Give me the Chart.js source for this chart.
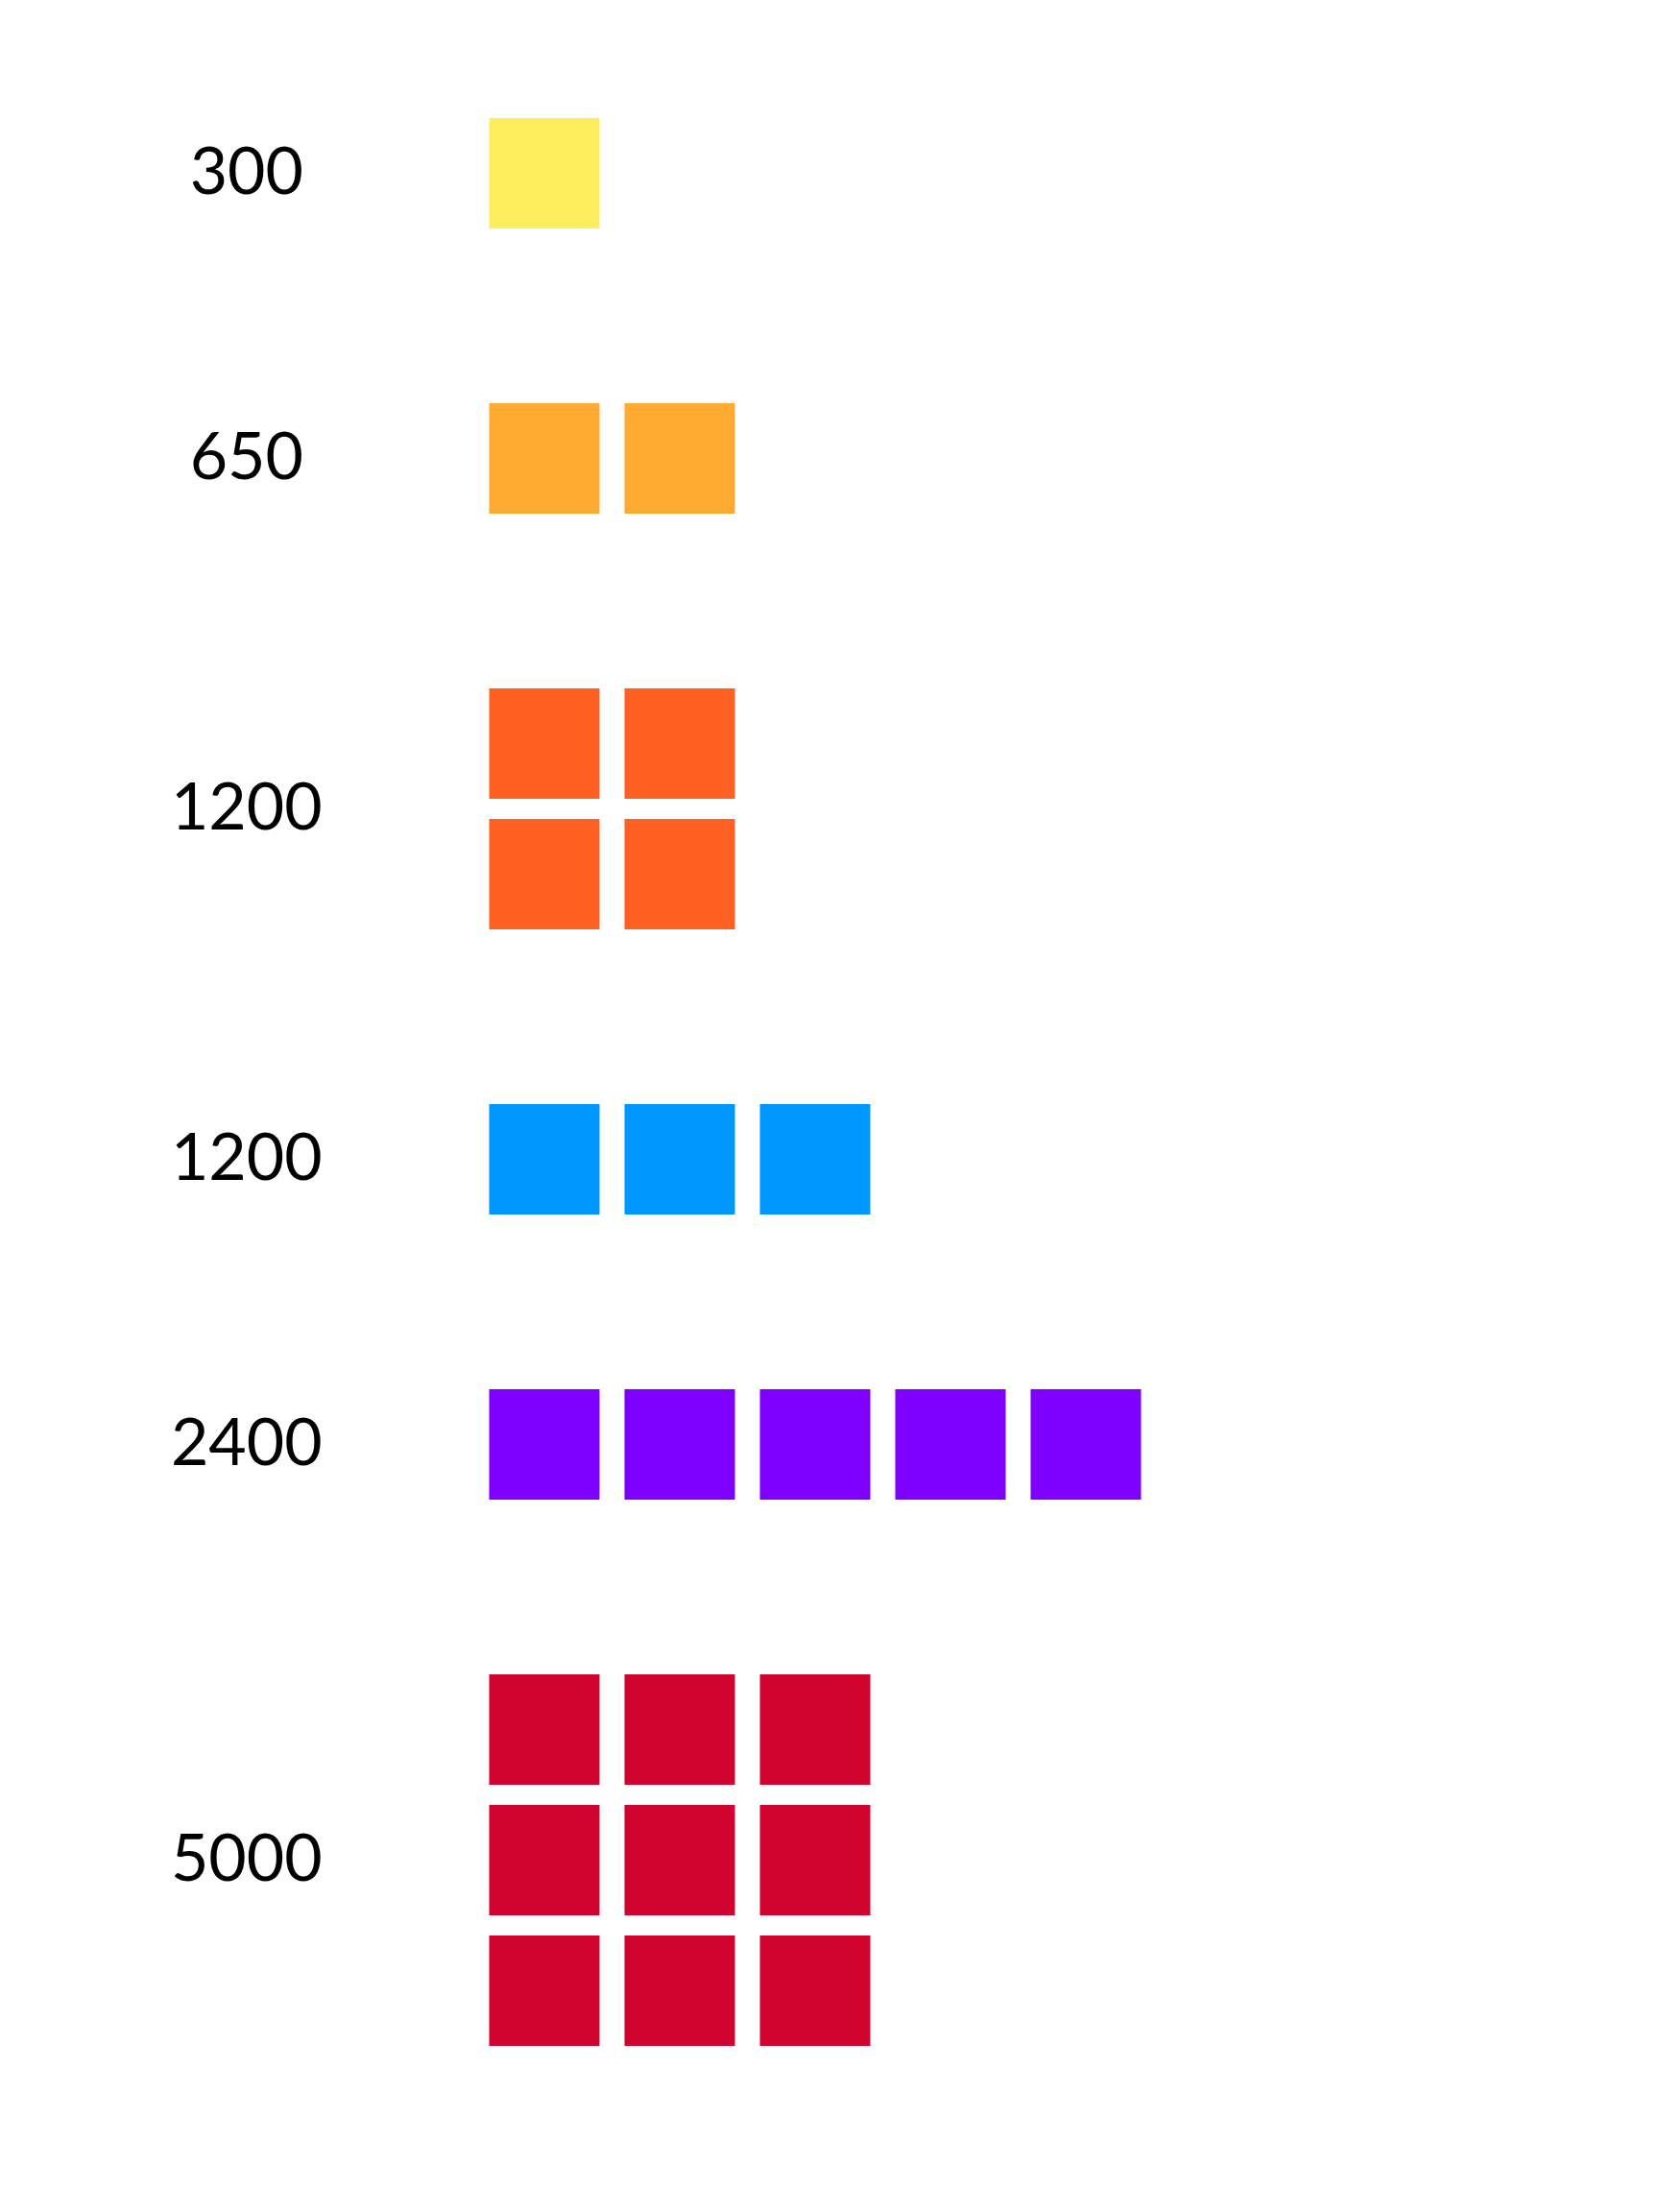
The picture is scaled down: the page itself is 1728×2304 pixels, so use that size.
<!DOCTYPE html>
<html>
<head>
<meta charset="utf-8">
<title>Unit grid</title>
<script src="https://cdn.jsdelivr.net/npm/chart.js@4/dist/chart.umd.min.js"></script>
<style>
  html, body { margin: 0; padding: 0; background: #ffffff; }
  #wrap { width: 1728px; height: 2304px; }
</style>
</head>
<body>
<div id="wrap"><canvas id="unit-chart" width="1728" height="2304"></canvas></div>
<script>
// one row per group: the printed number, how many squares across and down, colour
const rowLabels = ["300", "650", "1200", "1200", "2400", "5000"];
const rowValues = [300, 650, 1200, 1200, 2400, 5000];
const rowCols = [1, 2, 2, 3, 5, 3];
const rowRows = [1, 1, 2, 1, 1, 3];
const rowColors = ["#fced5e", "#ffaa33", "#ff6122", "#0096ff", "#8000ff", "#d1042f"];

// layout in axis units (1 x unit = one column, 1 y unit = one stacked row)
const BLOCK_GAP = 161 / 136;
const SQUARE = 115;

document.addEventListener("DOMContentLoaded", () => {
  // where each group starts on the y axis
  const rowStart = [];
  let pos = 0;
  rowRows.forEach((n) => {
    rowStart.push(pos);
    pos += n + BLOCK_GAP;
  });

  const datasets = rowLabels.map((label, i) => {
    const points = [];
    for (let r = 0; r < rowRows[i]; r++) {
      for (let c = 0; c < rowCols[i]; c++) {
        points.push({ x: c, y: rowStart[i] + r });
      }
    }
    return {
      label: label,
      data: points,
      pointStyle: "rect",
      pointRadius: SQUARE / (2 * Math.SQRT1_2),
      pointHoverRadius: SQUARE / (2 * Math.SQRT1_2),
      pointBorderWidth: 0,
      pointHoverBorderWidth: 0,
      backgroundColor: rowColors[i],
      borderColor: rowColors[i],
    };
  });

  // number labels to the left of each group
  const groupLabels = {
    id: "groupLabels",
    afterDatasetsDraw(chart) {
      const { ctx, scales } = chart;
      ctx.save();
      ctx.fillStyle = "#000000";
      ctx.font = "68px Lato";
      ctx.textAlign = "center";
      ctx.textBaseline = "middle";
      rowLabels.forEach((label, i) => {
        const mid = rowStart[i] + (rowRows[i] - 1) / 2;
        const y = scales.y.getPixelForValue(mid);
        const x = scales.x.getPixelForValue(-2.2);
        ctx.fillText(label, x, y);
      });
      ctx.restore();
    },
  };

  new Chart(document.getElementById("unit-chart"), {
    type: "scatter",
    data: { datasets },
    options: {
      responsive: false,
      animation: false,
      events: [],
      layout: { padding: 0, autoPadding: false },
      plugins: {
        legend: { display: false },
        tooltip: { enabled: false },
      },
      scales: {
        x: {
          type: "linear",
          display: false,
          min: -567 / 141,
          max: (1728 - 567) / 141,
        },
        y: {
          type: "linear",
          display: false,
          reverse: true,
          min: -180.5 / 136,
          max: (2304 - 180.5) / 136,
        },
      },
    },
    plugins: [groupLabels],
  });
});
</script>
</body>
</html>
